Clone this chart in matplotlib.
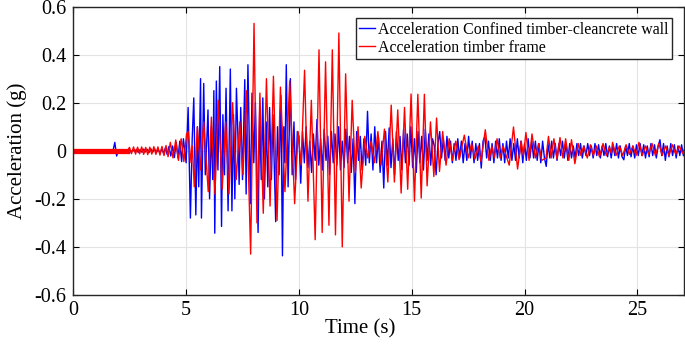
import numpy as np
import matplotlib
matplotlib.use("Agg")
from matplotlib import pyplot as plt

# timber frame (red) - peaks/troughs
red_t = [2.40, 2.49, 2.58, 2.67, 2.76, 2.85, 2.94, 3.03, 3.12, 3.21,
         3.30, 3.39, 3.48, 3.57, 3.66, 3.75, 3.84, 3.93, 4.02, 4.11,
         4.20, 4.30, 4.42, 4.54, 4.66, 4.78, 4.90, 5.02, 5.09, 5.22,
         5.28, 5.36, 5.50, 5.64, 5.78, 5.98, 6.12, 6.28, 6.42, 6.60,
         6.75, 6.90, 7.06, 7.22, 7.38, 7.52, 7.67, 7.86, 8.01, 8.14,
         8.27, 8.42, 8.56, 8.72, 8.87, 9.03, 9.18, 9.38, 9.59, 9.81,
         9.96, 10.10, 10.25, 10.40, 10.55, 10.72, 10.89, 11.03, 11.18, 11.33,
         11.48, 11.62, 11.77, 11.92, 12.07, 12.22, 12.36, 12.50, 12.62, 12.76,
         12.92, 13.05, 13.20, 13.35, 13.50, 13.64, 13.79, 13.94, 14.09, 14.23,
         14.38, 14.53, 14.68, 14.82, 14.97, 15.12, 15.27, 15.42, 15.56, 15.68,
         15.83, 15.98, 16.10, 16.23, 16.37, 16.52, 16.66, 16.80, 16.95, 17.10,
         17.33, 17.50, 17.65, 17.80, 17.95, 18.07, 18.26, 18.42, 18.55, 18.66,
         18.78, 18.92, 19.05, 19.32, 19.51, 19.69, 19.85, 19.95, 20.06, 20.20,
         20.33, 20.48, 20.62, 20.76, 20.95, 21.06, 21.18, 21.30, 21.44, 21.57,
         21.70, 21.82, 21.96, 22.08, 22.23, 22.38, 22.50, 22.62, 22.78, 22.92,
         23.05, 23.18, 23.32, 23.48, 23.62, 23.76, 23.84, 23.90, 24.05, 24.20,
         24.35, 24.50, 24.65, 24.80, 24.94, 25.07, 25.22, 25.36, 25.50, 25.65,
         25.80, 25.95, 26.10, 26.25, 26.40, 26.55, 26.70, 26.85, 27.00, 27.10]
red_v = [0.0, 0.014, -0.012, 0.016, -0.014, 0.015, -0.013, 0.016, -0.015, 0.014,
         -0.016, 0.015, -0.014, 0.017, -0.015, 0.016, -0.018, 0.018, -0.02, 0.022,
         -0.025, 0.035, -0.03, 0.045, -0.04, 0.05, -0.045, 0.07, 0.08, -0.05,
         0.02, -0.15, 0.10, -0.08, 0.12, -0.17, 0.14, -0.18, 0.21, -0.16,
         0.12, -0.18, 0.20, -0.12, 0.12, -0.10, 0.25, -0.43, 0.53, -0.30,
         0.24, -0.26, 0.30, -0.23, 0.31, -0.29, 0.265, -0.17, 0.29, -0.22,
         0.08, -0.06, 0.335, -0.21, 0.21, -0.37, 0.42, -0.34, 0.37, -0.31,
         0.42, -0.35, 0.49, -0.40, 0.32, -0.21, 0.21, -0.09, 0.10, -0.155,
         0.06, -0.03, 0.04, -0.05, 0.08, -0.06, 0.09, -0.13, 0.19, -0.13,
         0.17, -0.176, 0.18, -0.16, 0.236, -0.21, 0.235, -0.197, 0.235, -0.146,
         0.12, -0.107, 0.136, -0.086, 0.08, -0.06, 0.05, -0.04, 0.04, -0.037,
         0.065, -0.03, 0.03, -0.035, 0.02, -0.045, 0.0875, -0.04, 0.02, -0.03,
         0.05, -0.03, 0.02, -0.06, 0.099, -0.076, 0.04, -0.02, 0.076, -0.04,
         0.07, -0.03, 0.03, -0.04, -0.03, 0.06, -0.03, 0.05, -0.035, 0.055,
         -0.03, 0.05, -0.04, 0.046, -0.054, 0.03, -0.02, 0.02, -0.03, 0.025,
         -0.02, 0.02, -0.025, 0.03, -0.02, 0.015, -0.01, 0.035, -0.02, 0.02,
         -0.02, 0.025, -0.015, 0.02, -0.02, 0.035, -0.02, 0.02, -0.015, 0.03,
         -0.02, 0.03, -0.02, 0.02, -0.02, 0.025, -0.015, 0.02, -0.01, 0.01]
red_pre_t = [0.0, 2.40]   # thick band before the record starts
red_pre_v = [0.0, 0.0]

# confined timber-cleancrete wall (blue)
blue_early_t0 = 1.76
blue_early_v = [0.0, 0.035, -0.022, 0.003, -0.004, 0.005, -0.003, 0.004, -0.005, 0.004,
                -0.006, 0.005, -0.004, 0.006, -0.007, 0.005, -0.006, 0.007, -0.005, 0.006,
                -0.007, 0.008, -0.006, 0.009, -0.008, 0.007, -0.01, 0.009, -0.011, 0.012,
                -0.015, 0.018, -0.022, 0.02, -0.028, 0.035, -0.03, 0.04, -0.045, 0.05]
blue_mid_t = [5.00, 5.09, 5.19, 5.27, 5.34, 5.43, 5.50, 5.56, 5.64, 5.68,
              5.78, 5.85, 5.92, 5.97, 6.04, 6.12, 6.18, 6.23, 6.27, 6.34,
              6.41, 6.49, 6.57, 6.63, 6.70, 6.77, 6.86, 6.96, 7.03, 7.10,
              7.16, 7.23, 7.30, 7.35, 7.42, 7.50, 7.60, 7.66, 7.74, 7.80,
              7.85, 7.92, 8.00, 8.07, 8.19, 8.26, 8.33, 8.40, 8.47, 8.55,
              8.62, 8.70, 8.78, 8.85, 8.97, 9.05, 9.12, 9.20, 9.27, 9.33,
              9.38, 9.44, 9.52, 9.62, 9.70, 9.78, 9.85, 9.93]
blue_mid_v = [-0.05, 0.18, -0.28, 0.05, 0.22, -0.267, 0.10, -0.15, 0.30, -0.28,
              0.28, -0.10, 0.05, 0.17, -0.20, 0.10, -0.12, 0.25, -0.343, 0.29,
              -0.08, 0.35, -0.315, 0.15, -0.10, 0.26, -0.25, 0.34, -0.25, 0.15,
              -0.20, 0.26, 0.05, -0.14, 0.18, -0.12, 0.296, -0.18, 0.358, 0.05,
              -0.22, 0.24, -0.05, 0.20, -0.34, 0.16, -0.12, 0.22, -0.20, 0.12,
              -0.15, 0.18, -0.12, 0.15, -0.295, 0.10, -0.10, 0.23, -0.437, 0.10,
              -0.05, 0.358, -0.15, 0.30, -0.10, 0.12, -0.12, 0.08]
blue_late_t0 = 10.0
blue_late_v = [0.06, -0.135, 0.08, -0.05, 0.10, -0.07, 0.04, -0.09, 0.07, -0.04,
               0.13, -0.06, 0.05, -0.08, 0.09, -0.04, 0.06, -0.10, 0.08, -0.05,
               0.07, -0.06, 0.10, -0.08, 0.04, -0.07, 0.09, -0.05, 0.06, -0.09,
               0.05, -0.22, 0.08, -0.04, 0.06, -0.08, 0.05, -0.06, 0.164, -0.05,
               0.07, -0.08, 0.10, -0.05, 0.06, -0.09, 0.04, -0.155, 0.08, -0.06,
               0.095, -0.07, 0.05, -0.10, 0.08, -0.04, 0.06, -0.08, 0.09, -0.05,
               0.07, -0.06, 0.10, -0.07, 0.05, -0.09, 0.08, -0.05, 0.06, -0.08,
               0.09, -0.04, 0.07, -0.06, 0.05, 0.02, -0.10, 0.03, 0.08, -0.03,
               0.05, -0.04, 0.06, -0.03, 0.04, -0.05, 0.03, -0.04, 0.05, -0.03,
               0.04, -0.05, 0.03, -0.04, 0.06, -0.03, 0.04, -0.05, 0.03, -0.04,
               0.03, -0.072, 0.04, 0.06, -0.03, 0.04, -0.04, 0.03, -0.05, 0.04,
               -0.03, 0.05, -0.04, 0.03, -0.05, 0.04, -0.03, 0.05, -0.04, 0.03,
               -0.04, 0.05, -0.03, 0.04, -0.05, 0.03, -0.04, 0.05, -0.03, 0.04,
               -0.03, 0.04, -0.04, 0.03, -0.05, 0.04, -0.03, -0.065, 0.03, -0.03,
               0.04, -0.03, 0.03, -0.04, 0.03, -0.02, 0.04, -0.03, 0.03, -0.04,
               0.03, -0.03, 0.02, -0.03, 0.03, -0.02, 0.03, -0.03, 0.02, -0.02,
               0.03, -0.02, 0.02, -0.03, 0.03, -0.02, 0.025, -0.03, 0.02, -0.02,
               0.03, -0.025, 0.02, -0.03, 0.025, -0.02, 0.03, -0.03, 0.02, -0.025,
               -0.0375, 0.02, -0.02, 0.03, -0.025, 0.02, -0.03, 0.025, -0.02, 0.03,
               -0.02, 0.025, -0.03, 0.02, -0.025, 0.03, -0.02, 0.025, -0.03, 0.02,
               0.046, -0.02, 0.03, -0.04, 0.02, -0.025, 0.03, -0.02, 0.025, -0.03,
               0.02, -0.02, 0.025, -0.02]
dt = 0.08  # sample step of the read-off grid

xticks = [0, 5, 10, 15, 20, 25]
yticks = [-0.6, -0.4, -0.2, 0, 0.2, 0.4, 0.6]
ytick_labels = ["-0.6", "-0.4", "-0.2", "0", "0.2", "0.4", "0.6"]
labels = ["Acceleration Confined timber-cleancrete wall", "Acceleration timber frame"]

blue_t = np.concatenate([blue_early_t0 + dt * np.arange(len(blue_early_v)),
                         blue_mid_t,
                         blue_late_t0 + dt * np.arange(len(blue_late_v))])
blue_v = np.concatenate([blue_early_v, blue_mid_v, blue_late_v])

plt.rcParams['font.family'] = ['Liberation Serif', 'DejaVu Serif']

fig = plt.figure(figsize=(6.85, 3.45), dpi=100)
ax = fig.add_axes([0.107, 0.145, 0.891, 0.836])

ax.plot(blue_t, blue_v, color='#0000ff', lw=1.0, label=labels[0])
ax.plot(red_t, red_v, color='#ff0000', lw=1.0, label=labels[1])
ax.plot(red_pre_t, red_pre_v, color='#ff0000', lw=3.8)

ax.set_xlim(0, 27.05)
ax.set_ylim(-0.6, 0.6)
ax.set_xticks(xticks)
ax.set_yticks(yticks)
ax.set_yticklabels(ytick_labels)
ax.tick_params(direction='in', top=True, right=True, labelsize=14.5, length=4.5, width=0.8)
ax.tick_params(axis='y', pad=5)
ax.tick_params(axis='x', pad=4)
ax.grid(True, color='#e3e3e3', lw=0.8)
ax.set_axisbelow(True)
for s in ax.spines.values():
    s.set_linewidth(1.0)
    s.set_color('#262626')

ax.set_xlabel("Time (s)", fontsize=15)
ax.xaxis.set_label_coords(0.47, -0.085)
ax.set_ylabel("Acceleration (g)", fontsize=15)
ax.yaxis.set_label_coords(-0.076, 0.5)

leg = ax.legend(loc='upper right', fontsize=11.4, handlelength=1.0, handletextpad=0.2,
                borderpad=0.2, labelspacing=0.15, borderaxespad=0.75, fancybox=False,
                framealpha=1, edgecolor='#262626')
leg.get_frame().set_linewidth(1.0)

fig.savefig("out.png", dpi=100)
